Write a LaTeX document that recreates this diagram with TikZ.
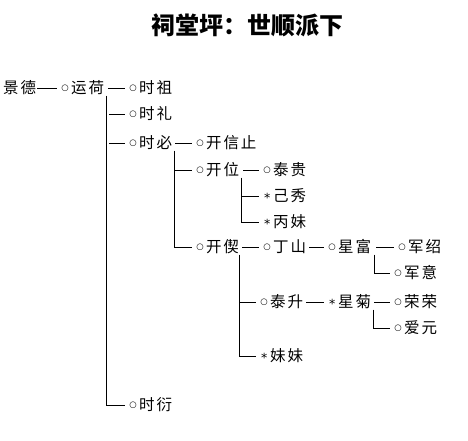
\documentclass[tikz,border=0pt]{standalone}
\usepackage{fontspec}
\newfontfamily\cjk[LetterSpace=12]{Noto Sans CJK SC}
\newfontfamily\cjktitle{Noto Sans CJK SC}
\newfontfamily\dejavu{DejaVu Sans}
\newcommand\mko{\makebox[12pt][c]{\raisebox{3.0pt}{\dejavu\fontsize{8.5}{8.5}\selectfont ○}}}
\newcommand\mks{\makebox[12pt][c]{\raisebox{-0.6pt}{\dejavu\fontsize{12.5}{12.5}\selectfont *}}}
\tikzset{
  person/.style={anchor=west, inner sep=0pt, text height=13pt, text depth=1.6pt,
    font={\cjk\fontsize{15.5}{18}\selectfont}},
  link/.style={line width=0.8pt, black}
}
\begin{document}
\begin{tikzpicture}[x=1pt,y=-1pt]
\useasboundingbox (0,0) rectangle (468,440);
\node[font={\cjktitle\bfseries\fontsize{24}{28}\selectfont}, inner sep=0pt] (title) at (247,25) {祠堂坪：世顺派下};
% level 0
\node[person] (jd) at (3,88) {景德};
\node[person] (yh) at (59,88) {\mko 运荷};
% level 1
\node[person] (sz) at (127,88) {\mko 时祖};
\node[person] (sl) at (127,114) {\mko 时礼};
\node[person] (sb) at (127,143) {\mko 时必};
\node[person] (sy) at (127,405) {\mko 时衍};
% level 2
\node[person] (kxz) at (194,143) {\mko 开信止};
\node[person] (kw) at (194,170) {\mko 开位};
\node[person] (kx) at (194,247) {\mko 开偰};
% level 3
\node[person] (tg) at (261,170) {\mko 泰贵};
\node[person] (jx) at (261,196) {\mks 己秀};
\node[person] (bm) at (261,222) {\mks 丙妹};
\node[person] (ds) at (261,247) {\mko 丁山};
\node[person] (ts) at (258,302) {\mko 泰升};
\node[person] (mm) at (258,356) {\mks 妹妹};
% level 4
\node[person] (xf) at (326,247) {\mko 星富};
\node[person] (xj) at (326,302) {\mks 星菊};
% level 5
\node[person] (js) at (396,247) {\mko 军绍};
\node[person] (jyi) at (392,273) {\mko 军意};
\node[person] (rr) at (392,302) {\mko 荣荣};
\node[person] (ay) at (392,328) {\mko 爱元};

% vertical anchors
\coordinate (v1) at ([xshift=2pt]yh.south east);
\coordinate (v2) at ([xshift=2pt]sb.south east);
\coordinate (v3) at ([xshift=2pt]kw.south east);
\coordinate (v4) at ([xshift=0pt]kx.south east);
\coordinate (v5) at ([xshift=3pt]xf.south east);
\coordinate (v6) at ([xshift=2pt]xj.south east);

% same-row dashes
\draw[link] ([xshift=1pt]jd.east) -- ([xshift=-2pt]yh.west);
\draw[link] ([xshift=4pt]yh.east) -- ([xshift=-2pt]sz.west);
\draw[link] ([xshift=3pt]sb.east) -- ([xshift=-2pt]kxz.west);
\draw[link] ([xshift=4pt]kw.east) -- ([xshift=-2pt]tg.west);
\draw[link] ([xshift=3pt]kx.east) -- ([xshift=-2pt]ds.west);
\draw[link] ([xshift=3pt]ds.east) -- ([xshift=-2pt]xf.west);
\draw[link] ([xshift=5pt]xf.east) -- ([xshift=-2pt]js.west);
\draw[link] ([xshift=3pt]ts.east) -- ([xshift=-2pt]xj.west);
\draw[link] ([xshift=3pt]xj.east) -- ([xshift=-2pt]rr.west);

% tree 1: 运荷
\draw[link] (v1) |- ([xshift=-2pt]sy.west);
\draw[link] ([xshift=3pt]v1 |- sl.west) -- ([xshift=-2pt]sl.west);
\draw[link] ([xshift=3pt]v1 |- sb.west) -- ([xshift=-2pt]sb.west);
% tree 2: 时必
\draw[link] (v2) |- ([xshift=-2pt]kx.west);
\draw[link] (v2 |- kw.west) -- ([xshift=-2pt]kw.west);
% tree 3: 开位
\draw[link] (v3) |- ([xshift=-2pt]bm.west);
\draw[link] (v3 |- jx.west) -- ([xshift=-2pt]jx.west);
% tree 4: 开偰
\draw[link] (v4) |- ([xshift=-2pt]mm.west);
\draw[link] (v4 |- ts.west) -- ([xshift=-2pt]ts.west);
% tree 5: 星富
\draw[link] (v5) |- ([xshift=-2pt]jyi.west);
% tree 6: 星菊
\draw[link] (v6) |- ([xshift=-2pt]ay.west);
\end{tikzpicture}
\end{document}
